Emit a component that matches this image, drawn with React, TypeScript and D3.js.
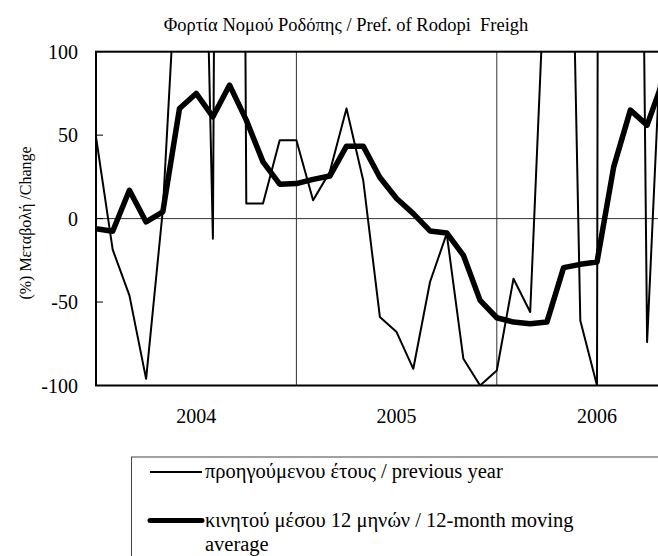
import React from "react";
import * as d3 from "d3";

const months = [
  "2004-01","2004-02","2004-03","2004-04","2004-05","2004-06","2004-07","2004-08","2004-09","2004-10","2004-11","2004-12",
  "2005-01","2005-02","2005-03","2005-04","2005-05","2005-06","2005-07","2005-08","2005-09","2005-10","2005-11","2005-12",
  "2006-01","2006-02","2006-03","2006-04","2006-05","2006-06","2006-07","2006-08","2006-09","2006-10","2006-11",
];
const previousYear = [
  49, -18.6, -46, -96, 5, 188, 445, -12, 1800, 9, 9, 47,
  47, 11, 28, 66, 23, -59, -68, -90, -38, -9, -84, -100,
  -91, -36, -56, 179, 437, -61, -100, 5000, 926, -74, 145,
];
const movingAvg = [
  -6, -7.6, 17, -2, 4, 66, 75, 61, 80, 59, 34, 20.6,
  21, 23.5, 25.5, 43.4, 43.4, 24.6, 12, 3, -7.4, -8.6, -22, -49,
  -59.4, -62, -63, -62, -29.4, -27.4, -26, 31, 65, 56, 84,
];
const yearLabels = ["2004", "2005", "2006"];
const yTicks = [-100, -50, 0, 50, 100];
const title = "Φορτία Νομού Ροδόπης / Pref. of Rodopi  Freigh";
const yTitle = "(%) Μεταβολή /Change";
const legend1 = "προηγούμενου έτους / previous year";
const legend2a = "κινητού μέσου 12 μηνών / 12-month moving";
const legend2b = "average";

export default function App() {
  const W = 658, H = 556;
  const left = 96, right = 697.2, top = 51.7, bottom = 385.5;
  const x = d3.scaleLinear().domain([0, 36]).range([left, right]);
  const y = d3.scaleLinear().domain([-100, 100]).range([bottom, top]);
  const line = d3.line<number>().x((_, i) => x(i)).y((d) => y(d));
  const font = "Liberation Serif";
  const ts = { fontFamily: font } as React.CSSProperties;
  const yearIdx = [6, 18, 30];
  const gridIdx = [12, 24];
  return (
    <svg width={W} height={H} style={{ position: "absolute", left: 0, top: 0, background: "#fff", fontFamily: font }}>
      <defs>
        <clipPath id="plotClip">
          <rect x={left} y={top} width={right - left} height={bottom - top} />
        </clipPath>
      </defs>
      <rect x={0} y={0} width={W} height={H} fill="#fff" />
      <text x={346} y={31} textAnchor="middle" fontSize={18.5} fill="#000" style={{ ...ts, whiteSpace: "pre" }}>{title}</text>
      {gridIdx.map((g) => (
        <line key={g} x1={x(g)} x2={x(g)} y1={top} y2={bottom} stroke="#333" strokeWidth={1} />
      ))}
      <line x1={left} x2={right} y1={y(0)} y2={y(0)} stroke="#333" strokeWidth={1} />
      {yTicks.map((t) => (
        <g key={t}>
          <line x1={left} x2={left + 7} y1={y(t)} y2={y(t)} stroke="#000" strokeWidth={1} />
          <text x={78} y={y(t) + 7} textAnchor="end" fontSize={20} fill="#000" style={ts}>{t}</text>
        </g>
      ))}
      <g clipPath="url(#plotClip)">
        <path d={line(previousYear) || ""} fill="none" stroke="#000" strokeWidth={2} strokeLinejoin="round" />
        <path d={line(movingAvg) || ""} fill="none" stroke="#000" strokeWidth={5.5} strokeLinejoin="round" strokeLinecap="round" />
      </g>
      <rect x={left} y={top} width={right - left} height={bottom - top} fill="none" stroke="#000" strokeWidth={2} />
      {yearLabels.map((lab, k) => (
        <text key={lab} x={x(yearIdx[k])} y={423} textAnchor="middle" fontSize={20} fill="#000" style={ts}>{lab}</text>
      ))}
      <text transform={`translate(31, 223) rotate(-90)`} textAnchor="middle" fontSize={16} fill="#000" style={ts}>{yTitle}</text>
      <rect x={131.5} y={457} width={600} height={200} fill="none" stroke="#444" strokeWidth={1} />
      <line x1={150} x2={202} y1={472} y2={472} stroke="#000" strokeWidth={2} />
      <text x={205} y={478} fontSize={20.5} fill="#000" style={ts}>{legend1}</text>
      <line x1={150} x2={202} y1={520.5} y2={520.5} stroke="#000" strokeWidth={5} strokeLinecap="round" />
      <text x={205} y={527} fontSize={20.5} fill="#000" style={ts}>{legend2a}</text>
      <text x={205} y={551} fontSize={20.5} fill="#000" style={ts}>{legend2b}</text>
    </svg>
  );
}
